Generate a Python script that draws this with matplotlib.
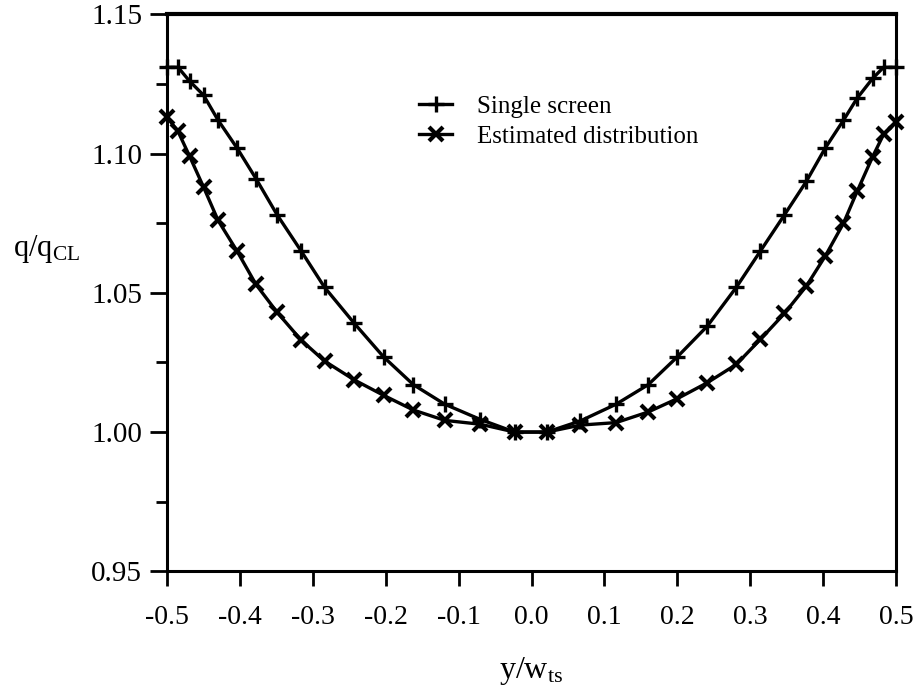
import matplotlib
matplotlib.use("Agg")
import matplotlib.pyplot as plt
from matplotlib.ticker import MultipleLocator, FormatStrFormatter

plt.rcParams["font.family"] = ["Liberation Serif", "DejaVu Serif"]
plt.rcParams["mathtext.fontset"] = "custom"
plt.rcParams["mathtext.rm"] = "Liberation Serif"
plt.rcParams["mathtext.it"] = "Liberation Serif"

# data
y_pos = [-0.5, -0.485, -0.469, -0.45, -0.43, -0.404, -0.378, -0.349, -0.316, -0.284,
         -0.243, -0.203, -0.162, -0.119, -0.070, -0.023, 0.021, 0.067, 0.116, 0.160,
         0.200, 0.241, 0.281, 0.314, 0.347, 0.377, 0.403, 0.428, 0.447, 0.468, 0.483, 0.5]

single_screen = [1.131, 1.131, 1.126, 1.121, 1.112, 1.102, 1.091, 1.078, 1.065, 1.052,
                 1.039, 1.027, 1.017, 1.010, 1.0045, 1.000, 1.000, 1.004, 1.010, 1.017,
                 1.027, 1.038, 1.052, 1.065, 1.078, 1.090, 1.102, 1.112, 1.120, 1.127,
                 1.131, 1.131]

estimated = [1.113, 1.108, 1.099, 1.088, 1.076, 1.065, 1.053, 1.043, 1.033, 1.0255,
             1.0187, 1.0132, 1.0079, 1.0042, 1.0028, 1.000, 1.000, 1.0025, 1.0034, 1.0072,
             1.012, 1.0177, 1.0243, 1.0333, 1.0426, 1.0524, 1.0632, 1.075, 1.0866, 1.0989,
             1.1069, 1.1113]

fig = plt.figure(figsize=(9.18, 6.85), dpi=100)
ax = fig.add_axes([0.182, 0.166, 0.794, 0.813])

ax.plot(y_pos, single_screen, color="black", lw=2.4, marker="+", ms=11, mew=2.4,
        label="Single screen", clip_on=False, zorder=3)
ax.plot(y_pos, estimated, color="black", lw=2.4, marker="x", ms=10, mew=3.0,
        label="Estimated distribution", clip_on=False, zorder=3)

ax.set_xlim(-0.5, 0.5)
ax.set_ylim(0.95, 1.15)
ax.xaxis.set_major_locator(MultipleLocator(0.1))
ax.xaxis.set_major_formatter(FormatStrFormatter("%.1f"))
ax.yaxis.set_major_locator(MultipleLocator(0.05))
ax.yaxis.set_minor_locator(MultipleLocator(0.025))
ax.yaxis.set_major_formatter(FormatStrFormatter("%.2f"))

ax.tick_params(axis="x", direction="out", length=11, width=2, labelsize=20, pad=13)
ax.tick_params(axis="y", which="major", direction="out", length=12, width=2, labelsize=21, pad=6)
ax.tick_params(axis="y", which="minor", direction="out", length=8, width=2)
for s in ax.spines.values():
    s.set_linewidth(2.2)
ax.spines["top"].set_linewidth(3)

ax.set_xlabel("y/w$_{\\rm ts}$", fontsize=23, labelpad=18)
ax.set_ylabel("q/q$_{\\rm CL}$", fontsize=22, rotation=0)
ax.yaxis.set_label_coords(-0.165, 0.55)

ax.legend(loc="upper left", bbox_to_anchor=(0.329, 0.877), frameon=False, fontsize=18,
          handlelength=1.3, handletextpad=1.0, labelspacing=0.3, borderpad=0)

fig.savefig("out.png", dpi=100)
